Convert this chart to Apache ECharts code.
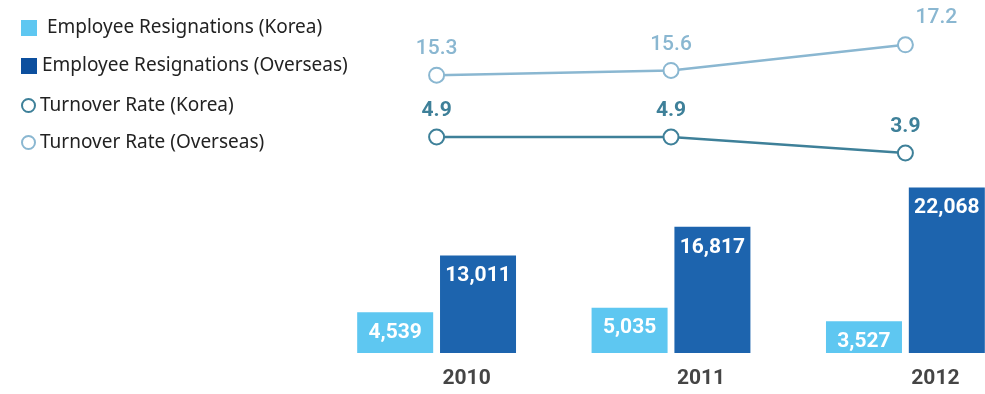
<!DOCTYPE html>
<html>
<head>
<meta charset="utf-8">
<script src="https://cdn.jsdelivr.net/npm/echarts@6/dist/echarts.min.js"></script>
<style>
  html, body { margin: 0; padding: 0; background: #ffffff; }
  #chart { width: 985px; height: 394px; }
</style>
</head>
<body>
<div id="chart"></div>
<script>
// Years on the shared category axis
const years = ['2010', '2011', '2012'];

// Number of employees who resigned
const resignKorea = [4539, 5035, 3527];
const resignOverseas = [13011, 16817, 22068];

// Turnover rate (%)
const rateKorea = [4.9, 4.9, 3.9];
const rateOverseas = [15.3, 15.6, 17.2];

const names = {
  barK: 'Employee Resignations (Korea)',
  barO: 'Employee Resignations (Overseas)',
  lineK: 'Turnover Rate (Korea)',
  lineO: 'Turnover Rate (Overseas)'
};

const colors = {
  barK: '#5ec7f1',
  barO: '#1d64ae',
  legendO: '#0c4f9e',
  lineK: '#3e8099',
  lineO: '#8ab7d1'
};

const numFont = "'Roboto', sans-serif";
const textFont = "'Noto Sans', 'Open Sans', sans-serif";

// plot area runs a little past the right edge of the canvas
const gridX = { left: 319.4, width: 703.2, outerBoundsMode: 'none' };

const chart = echarts.init(document.getElementById('chart'), null, { renderer: 'canvas' });

const hiddenX = (gridIndex) => ({
  type: 'category', data: years, gridIndex, show: false, boundaryGap: true
});

const legendText = { fontFamily: textFont, fontSize: 19, color: '#222222', lineHeight: 20 };

chart.setOption({
  animation: false,
  backgroundColor: '#ffffff',
  legend: [
    {
      orient: 'vertical', left: 21, top: 18, padding: 0,
      itemWidth: 16, itemHeight: 16, itemGap: 18, selectedMode: false,
      textStyle: legendText,
      formatter: (n) => (n === names.barK ? ' ' + n : n),
      data: [
        { name: names.barK, icon: 'rect', itemStyle: { color: colors.barK } },
        { name: names.barO, icon: 'rect', itemStyle: { color: colors.legendO } }
      ]
    },
    {
      orient: 'vertical', left: 21, top: 95.5, padding: 0,
      itemWidth: 13, itemHeight: 13, itemGap: 17, selectedMode: false,
      textStyle: legendText,
      data: [
        { name: names.lineK, icon: 'circle', itemStyle: { color: '#ffffff', borderColor: colors.lineK, borderWidth: 2 } },
        { name: names.lineO, icon: 'circle', itemStyle: { color: '#ffffff', borderColor: colors.lineO, borderWidth: 2 } }
      ]
    }
  ],
  grid: [
    { ...gridX, top: 128, height: 225 },   // bars
    { ...gridX, top: 32, height: 80 },     // overseas turnover rate
    { ...gridX, top: 119.4, height: 48 }   // korea turnover rate
  ],
  xAxis: [
    {
      type: 'category', data: years, gridIndex: 0, boundaryGap: true,
      axisLine: { show: false }, axisTick: { show: false },
      axisLabel: {
        margin: 15, fontFamily: numFont, fontSize: 21, fontWeight: 'bold', color: '#454545',
        padding: [0, 0, 0, 60]
      }
    },
    hiddenX(1),
    hiddenX(2)
  ],
  yAxis: [
    { type: 'value', gridIndex: 0, min: 0, max: 30000, show: false, splitLine: { show: false } },
    { type: 'value', gridIndex: 0, min: 0, max: 25000, show: false, splitLine: { show: false } },
    { type: 'value', gridIndex: 1, min: 13, max: 18, show: false, splitLine: { show: false } },
    { type: 'value', gridIndex: 2, min: 3, max: 6, show: false, splitLine: { show: false } }
  ],
  series: [
    {
      name: names.barK, type: 'bar', xAxisIndex: 0, yAxisIndex: 1,
      data: resignKorea, barWidth: 76, barGap: '9%',
      itemStyle: { color: colors.barK },
      label: {
        show: true, position: 'insideTop', distance: 10,
        fontFamily: numFont, fontSize: 21, fontWeight: 'bold', color: '#ffffff',
        formatter: (p) => p.value.toLocaleString('en-US')
      }
    },
    {
      name: names.barO, type: 'bar', xAxisIndex: 0, yAxisIndex: 0,
      data: resignOverseas, barWidth: 76, barGap: '9%',
      itemStyle: { color: colors.barO },
      label: {
        show: true, position: 'insideTop', distance: 10,
        fontFamily: numFont, fontSize: 21, fontWeight: 'bold', color: '#ffffff',
        formatter: (p) => p.value.toLocaleString('en-US')
      }
    },
    {
      name: names.lineO, type: 'line', xAxisIndex: 1, yAxisIndex: 2,
      data: rateOverseas.map((v, i) => (i === 2
        ? { value: v, label: { offset: [31, -1] } }
        : v)),
      symbol: 'emptyCircle', symbolSize: 15,
      lineStyle: { color: colors.lineO, width: 2.5 },
      itemStyle: { color: colors.lineO, borderColor: colors.lineO, borderWidth: 2.5 },
      label: {
        show: true, position: 'top', distance: 7,
        fontFamily: numFont, fontSize: 21, fontWeight: 500, color: colors.lineO,
        formatter: (p) => p.value.toFixed(1)
      }
    },
    {
      name: names.lineK, type: 'line', xAxisIndex: 2, yAxisIndex: 3,
      data: rateKorea,
      symbol: 'emptyCircle', symbolSize: 15,
      lineStyle: { color: colors.lineK, width: 2.5 },
      itemStyle: { color: colors.lineK, borderColor: colors.lineK, borderWidth: 2.5 },
      label: {
        show: true, position: 'top', distance: 7,
        fontFamily: numFont, fontSize: 21, fontWeight: 'bold', color: colors.lineK,
        formatter: (p) => p.value.toFixed(1)
      }
    }
  ]
});
</script>
</body>
</html>
